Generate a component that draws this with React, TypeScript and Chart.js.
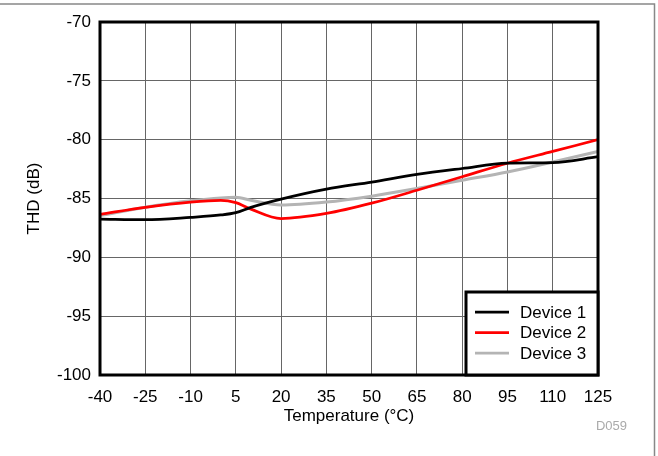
import React, { useEffect, useRef } from "react";
import { Chart, registerables } from "chart.js";

Chart.register(...registerables);

const temperatures = [-40, -25, -10, 0, 5, 10, 20, 35, 50, 65, 80, 95, 110, 125];
const device1 = [-86.75, -86.8, -86.6, -86.4, -86.2, -85.75, -85.05, -84.2, -83.6, -82.95, -82.45, -82.0, -81.95, -81.45];
const device2 = [-86.35, -85.75, -85.3, -85.15, -85.35, -85.9, -86.7, -86.27, -85.4, -84.3, -83.15, -82.0, -81.0, -80.0];
const device3 = [-86.45, -85.75, -85.2, -84.95, -84.9, -85.15, -85.55, -85.3, -84.8, -84.15, -83.45, -82.75, -81.9, -81.0];
const seriesLabels = ["Device 1", "Device 2", "Device 3"];
const seriesColors = ["#000000", "#ff0000", "#b4b4b4"];
const xTicks = [-40, -25, -10, 5, 20, 35, 50, 65, 80, 95, 110, 125];
const yTicks = [-100, -95, -90, -85, -80, -75, -70];

const FONT = "'Liberation Sans', Arial, Helvetica, sans-serif";

const framePlugin = {
  id: "frame",
  afterDraw(chart: any) {
    const { ctx, chartArea: a } = chart;
    ctx.save();
    // page border (top and right)
    ctx.strokeStyle = "#888888";
    ctx.lineWidth = 1.5;
    ctx.beginPath();
    ctx.moveTo(0, 4);
    ctx.lineTo(654.5, 4);
    ctx.lineTo(654.5, 456);
    ctx.stroke();
    // plot border
    ctx.strokeStyle = "#000000";
    ctx.lineWidth = 3;
    ctx.strokeRect(a.left, a.top, a.right - a.left, a.bottom - a.top);
    // legend
    const bw = 132;
    const bh = 83;
    const bx = a.right - bw;
    const by = a.bottom - bh;
    ctx.fillStyle = "#ffffff";
    ctx.fillRect(bx, by, bw, bh);
    ctx.strokeRect(bx, by, bw, bh);
    ctx.font = `17px ${FONT}`;
    ctx.textBaseline = "middle";
    ctx.textAlign = "left";
    chart.data.datasets.forEach((ds: any, i: number) => {
      const y = by + 20 + i * 20.5;
      ctx.strokeStyle = ds.borderColor;
      ctx.lineWidth = 2.75;
      ctx.beginPath();
      ctx.moveTo(bx + 9, y);
      ctx.lineTo(bx + 43, y);
      ctx.stroke();
      ctx.fillStyle = "#000000";
      ctx.fillText(ds.label, bx + 54, y + 1);
    });
    // figure id
    ctx.font = `13px ${FONT}`;
    ctx.fillStyle = "#aaaaaa";
    ctx.textAlign = "right";
    ctx.fillText("D059", 627, 426);
    ctx.restore();
  },
};

export default function App() {
  const ref = useRef<HTMLCanvasElement | null>(null);
  useEffect(() => {
    if (!ref.current) return;
    const series = [device1, device2, device3];
    const chart = new Chart(ref.current, {
      type: "line",
      data: {
        datasets: series.map((vals, i) => ({
          label: seriesLabels[i],
          data: temperatures.map((t, j) => ({ x: t, y: vals[j] })),
          borderColor: seriesColors[i],
          backgroundColor: seriesColors[i],
          borderWidth: i === 2 ? 3 : 2.75,
          pointRadius: 0,
          cubicInterpolationMode: "monotone" as const,
          fill: false,
        })),
      },
      options: {
        animation: false,
        responsive: false,
        maintainAspectRatio: false,
        devicePixelRatio: 1,
        layout: { padding: { left: 0, top: 22, right: 60, bottom: 0 } },
        plugins: { legend: { display: false }, tooltip: { enabled: false } },
        scales: {
          x: {
            type: "linear",
            min: -40,
            max: 125,
            afterBuildTicks: (s: any) => {
              s.ticks = xTicks.map((v) => ({ value: v }));
            },
            afterFit: (s: any) => {
              s.height = 81;
            },
            ticks: {
              font: { family: FONT, size: 17 },
              color: "#000000",
              padding: 12,
              maxRotation: 0,
              autoSkip: false,
            },
            grid: { color: "#666666", lineWidth: 1, drawTicks: false },
            border: { display: false },
            title: {
              display: true,
              text: "Temperature (°C)",
              font: { family: FONT, size: 17 },
              color: "#000000",
              padding: { top: 0, bottom: 29 },
            },
          },
          y: {
            type: "linear",
            min: -100,
            max: -70,
            afterBuildTicks: (s: any) => {
              s.ticks = yTicks.map((v) => ({ value: v }));
            },
            afterFit: (s: any) => {
              s.width = 100;
            },
            ticks: {
              font: { family: FONT, size: 17 },
              color: "#000000",
              padding: 9,
              autoSkip: false,
            },
            grid: { color: "#666666", lineWidth: 1, drawTicks: false },
            border: { display: false },
            title: {
              display: true,
              text: "THD (dB)",
              font: { family: FONT, size: 17 },
              color: "#000000",
              padding: { top: 24, bottom: 0 },
            },
          },
        },
      },
      plugins: [framePlugin],
    });
    return () => chart.destroy();
  }, []);
  return (
    <div style={{ position: "fixed", left: 0, top: 0, width: 658, height: 456, background: "#ffffff" }}>
      <canvas ref={ref} width={658} height={456} style={{ width: 658, height: 456, display: "block" }} />
    </div>
  );
}
